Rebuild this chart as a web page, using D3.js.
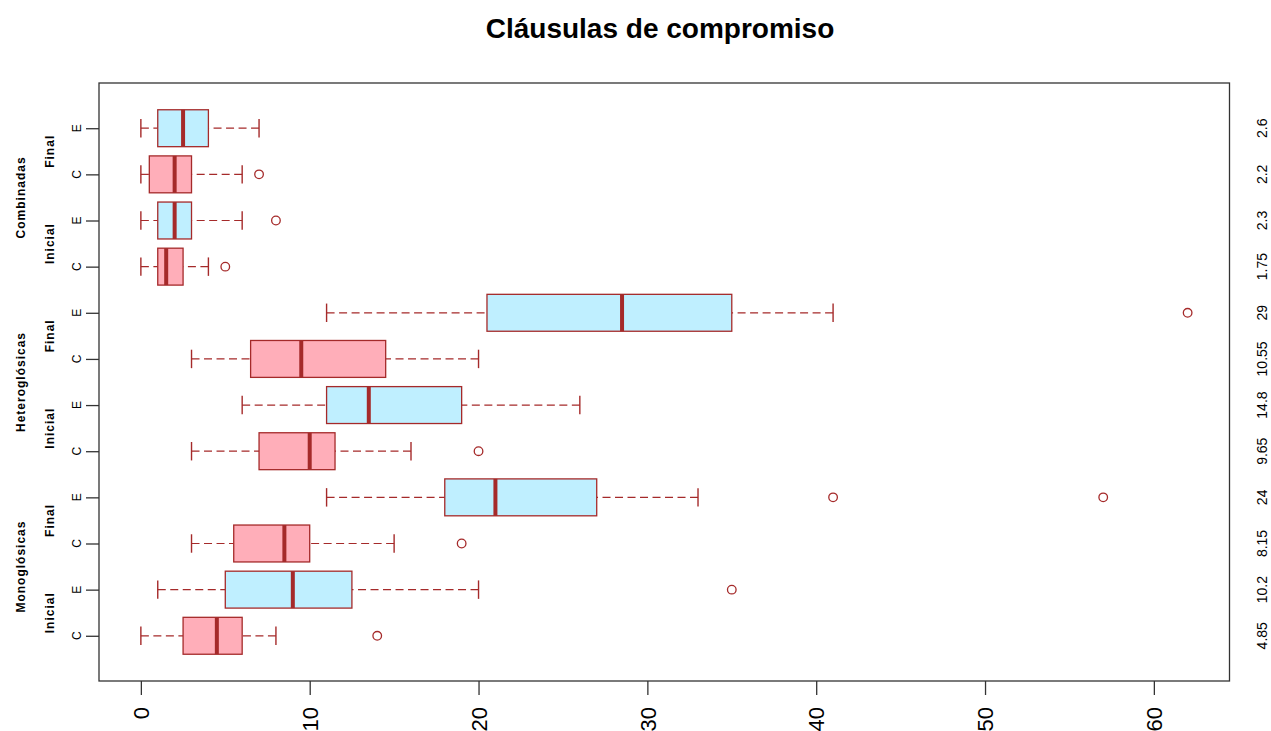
<!DOCTYPE html>
<html>
<head>
<meta charset="utf-8">
<script src="https://cdn.jsdelivr.net/npm/d3@7"></script>
<style>
  html, body { margin: 0; padding: 0; background: #fff; }
  svg text { font-family: "Liberation Sans", Arial, sans-serif; }
</style>
</head>
<body>
<svg id="chart" width="1271" height="731"></svg>
<script>
// ---- Data (bottom to top, positions 1..12) ----
const boxLabels = ["C","E","C","E","C","E","C","E","C","E","C","E"];
const phases = ["Inicial","Final","Inicial","Final","Inicial","Final"];
const groups = ["Monoglósicas","Heteroglósicas","Combinadas"];
const whiskerLow  = [0, 1, 3, 11, 3, 6, 3, 11, 0, 0, 0, 0];
const q1          = [2.5, 5, 5.5, 18, 7, 11, 6.5, 20.5, 1, 1, 0.5, 1];
const medians     = [4.5, 9, 8.5, 21, 10, 13.5, 9.5, 28.5, 1.5, 2, 2, 2.5];
const q3          = [6, 12.5, 10, 27, 11.5, 19, 14.5, 35, 2.5, 3, 3, 4];
const whiskerHigh = [8, 20, 15, 33, 16, 26, 20, 41, 4, 6, 6, 7];
const outliers    = [[14], [35], [19], [41, 57], [20], [], [], [62], [5], [8], [7], []];
const meanLabels  = ["4.85","10.2","8.15","24","9.65","14.8","10.55","29","1.75","2.3","2.2","2.6"];
const xTicks      = [0, 10, 20, 30, 40, 50, 60];

const fillC = "#FFAEB9", fillE = "#BFEFFF", border = "#A52A2A";

const svg = d3.select("#chart");
const pLeft = 99, pRight = 1229.5, pTop = 83, pBottom = 681;

const x = d3.scaleLinear().domain([-2.48, 64.48]).range([pLeft, pRight]);
const y = d3.scaleLinear().domain([0.02, 12.98]).range([pBottom, pTop]);
const boxH = 0.8;

// Title
svg.append("text").attr("x", 660).attr("y", 38).attr("text-anchor", "middle")
  .attr("font-size", 28).attr("font-weight", "bold").attr("fill", "#000")
  .text("Cláusulas de compromiso");

const g = svg.append("g");
const idx = d3.range(12);

idx.forEach(i => {
  const p = i + 1;
  const cy = y(p);
  const h = y(p - boxH / 2) - y(p + boxH / 2);
  const sh = h / 2;
  const fill = boxLabels[i] === "C" ? fillC : fillE;
  g.append("line").attr("x1", x(whiskerLow[i])).attr("x2", x(q1[i]))
    .attr("y1", cy).attr("y2", cy).attr("stroke", border).attr("stroke-width", 1.2)
    .attr("stroke-dasharray", "8,4.5");
  g.append("line").attr("x1", x(whiskerHigh[i])).attr("x2", x(q3[i]))
    .attr("y1", cy).attr("y2", cy).attr("stroke", border).attr("stroke-width", 1.2)
    .attr("stroke-dasharray", "8,4.5");
  [whiskerLow[i], whiskerHigh[i]].forEach(v => {
    g.append("line").attr("x1", x(v)).attr("x2", x(v))
      .attr("y1", cy - sh / 2).attr("y2", cy + sh / 2)
      .attr("stroke", border).attr("stroke-width", 1.4);
  });
  g.append("rect").attr("x", x(q1[i])).attr("y", cy - h / 2)
    .attr("width", x(q3[i]) - x(q1[i])).attr("height", h)
    .attr("fill", fill).attr("stroke", border).attr("stroke-width", 1.3);
  g.append("line").attr("x1", x(medians[i])).attr("x2", x(medians[i]))
    .attr("y1", cy - h / 2).attr("y2", cy + h / 2)
    .attr("stroke", border).attr("stroke-width", 4);
  outliers[i].forEach(v => {
    g.append("circle").attr("cx", x(v)).attr("cy", cy).attr("r", 4.3)
      .attr("fill", "none").attr("stroke", border).attr("stroke-width", 1.3);
  });
  svg.append("text")
    .attr("transform", `translate(1267,${cy}) rotate(-90)`)
    .attr("text-anchor", "middle").attr("font-size", 14)
    .attr("fill", "#000").text(meanLabels[i]);
});

// Plot frame
svg.append("rect").attr("x", pLeft).attr("y", pTop)
  .attr("width", pRight - pLeft).attr("height", pBottom - pTop)
  .attr("fill", "none").attr("stroke", "#333").attr("stroke-width", 1.3);

// Bottom axis
const xAxis = d3.axisBottom(x).tickValues(xTicks).tickSize(14).tickFormat(d3.format("d"));
const ax = svg.append("g").attr("transform", `translate(0,${pBottom})`).call(xAxis);
ax.select(".domain").remove();
ax.selectAll(".tick line").attr("stroke", "#333").attr("stroke-width", 1.3);
ax.selectAll(".tick text")
  .attr("font-family", "'Liberation Sans', Arial, sans-serif")
  .attr("font-size", 22).attr("fill", "#000")
  .attr("transform", "rotate(-90)")
  .attr("x", -26).attr("y", 0).attr("dy", "0.35em")
  .attr("text-anchor", "end");

// Left axis
const yAxis = d3.axisLeft(y).tickValues(idx.map(i => i + 1)).tickSize(13)
  .tickFormat((d) => boxLabels[d - 1]);
const ay = svg.append("g").attr("transform", `translate(${pLeft},0)`).call(yAxis);
ay.select(".domain").remove();
ay.selectAll(".tick line").attr("stroke", "#333").attr("stroke-width", 1.3);
ay.selectAll(".tick text").remove();
idx.forEach(i => {
  svg.append("text").attr("transform", `translate(80.5,${y(i + 1)}) rotate(-90)`)
    .attr("text-anchor", "middle").attr("font-size", 12)
    .attr("fill", "#000").text(boxLabels[i]);
});
phases.forEach((ph, j) => {
  const cy = y(2 * j + 1.5);
  svg.append("text").attr("transform", `translate(54,${cy}) rotate(-90)`)
    .attr("text-anchor", "middle").attr("font-size", 12).attr("font-weight", "bold")
    .attr("letter-spacing", 1).attr("fill", "#000").text(ph);
});
groups.forEach((gr, k) => {
  const cy = y(4 * k + 2.5);
  svg.append("text").attr("transform", `translate(25,${cy}) rotate(-90)`)
    .attr("text-anchor", "middle").attr("font-size", 12).attr("font-weight", "bold")
    .attr("letter-spacing", 1).attr("fill", "#000").text(gr);
});
</script>
</body>
</html>
